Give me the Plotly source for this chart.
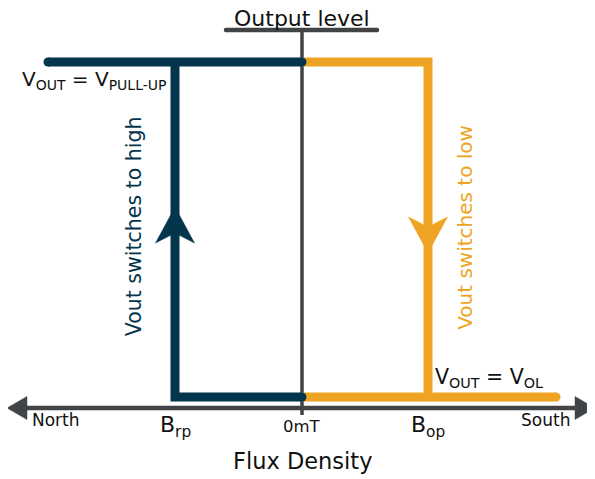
import plotly.graph_objects as go

# ---------------- data ----------------
# flux density positions (arbitrary units, 0 = 0 mT)
NORTH_END = -254
B_RP = -127
ZERO = 0
B_OP = 126
SOUTH_END = 254
AXIS_LEFT_TIP = -295
AXIS_RIGHT_TIP = 293

# output levels
V_LOW = 0.0
V_HIGH = 1.0

# tick labels along the flux axis
tick_labels = ["North", "B<sub>rp</sub>", "0mT", "B<sub>op</sub>", "South"]
tick_x = [-246, B_RP, ZERO, B_OP, 243]
tick_sizes = [17, 22, 16.5, 22, 17]
tick_drop_px = [23, 29, 29, 29, 23]

# release path (navy): low -> high at B_rp, then high level
release_x = [ZERO, B_RP, B_RP, None, NORTH_END, ZERO]
release_y = [V_LOW, V_LOW, V_HIGH, None, V_HIGH, V_HIGH]
# operate path (orange): high -> low at B_op, then low level
operate_x = [ZERO, B_OP, B_OP, None, ZERO, SOUTH_END]
operate_y = [V_HIGH, V_HIGH, V_LOW, None, V_LOW, V_LOW]

# arrow tip levels on the switching lines
arrow_up_tip = 0.567
arrow_down_tip = 0.43

# ---------------- styling ----------------
# the page body has an 8px margin, so the figure covers window pixels 8..595 / 8..479
OFF = 8
W, H = 595 - OFF, 479 - OFF
X_MIN, X_MAX = OFF - 302, 595 - 302
Y_MIN, Y_MAX = (397 - 479) / 335, (397 - OFF) / 335
PY = 1 / 335  # y units per pixel
NAVY = "#03354C"
ORANGE = "#EEA422"
GRAY = "#404446"
FONT = "DejaVu Sans"
LW = 9

AXIS_Y = V_LOW - 11 * PY
TITLE_LINE_Y = V_HIGH + 32 * PY

fig = go.Figure()

def line(x, y, color, width):
    fig.add_trace(go.Scatter(x=x, y=y, mode="lines", line=dict(color=color, width=width),
                             hoverinfo="skip", showlegend=False, cliponaxis=False))

def dots(x, y, color, size):
    fig.add_trace(go.Scatter(x=x, y=y, mode="markers",
                             marker=dict(color=color, size=size, line=dict(width=0)),
                             hoverinfo="skip", showlegend=False, cliponaxis=False))

def poly(x, y, color):
    fig.add_trace(go.Scatter(x=x, y=y, mode="lines", fill="toself", fillcolor=color,
                             line=dict(color=color, width=0.5), hoverinfo="skip",
                             showlegend=False, cliponaxis=False))

# vertical output-level axis + title underline
line([ZERO, ZERO], [TITLE_LINE_Y, V_LOW - 18 * PY], GRAY, 3.5)
line([-76, 75], [TITLE_LINE_Y, TITLE_LINE_Y], GRAY, 4.5)
dots([-76, 75], [TITLE_LINE_Y, TITLE_LINE_Y], GRAY, 4.5)

# flux axis with arrowheads
line([AXIS_LEFT_TIP + 20, AXIS_RIGHT_TIP - 20], [AXIS_Y, AXIS_Y], GRAY, 4.7)
poly([AXIS_LEFT_TIP, AXIS_LEFT_TIP + 20, AXIS_LEFT_TIP + 20, AXIS_LEFT_TIP],
     [AXIS_Y, AXIS_Y + 11.5 * PY, AXIS_Y - 11.5 * PY, AXIS_Y], GRAY)
poly([AXIS_RIGHT_TIP, AXIS_RIGHT_TIP - 20, AXIS_RIGHT_TIP - 20, AXIS_RIGHT_TIP],
     [AXIS_Y, AXIS_Y + 11.5 * PY, AXIS_Y - 11.5 * PY, AXIS_Y], GRAY)

# hysteresis paths
line(operate_x, operate_y, ORANGE, LW)
dots([SOUTH_END], [V_LOW], ORANGE, LW)
line(release_x, release_y, NAVY, LW)
dots([NORTH_END, ZERO, ZERO], [V_HIGH, V_HIGH, V_LOW], NAVY, LW)

# direction arrowheads
HL, HN, HW = 36, 10, 19.5
poly([B_RP, B_RP + HW, B_RP, B_RP - HW, B_RP],
     [arrow_up_tip, arrow_up_tip - HL * PY, arrow_up_tip - (HL - HN) * PY,
      arrow_up_tip - HL * PY, arrow_up_tip], NAVY)
poly([B_OP, B_OP + HW, B_OP, B_OP - HW, B_OP],
     [arrow_down_tip, arrow_down_tip + HL * PY, arrow_down_tip + (HL - HN) * PY,
      arrow_down_tip + HL * PY, arrow_down_tip], ORANGE)

# ---------------- text ----------------
def text(x, y, s, size, color="#111111", angle=0, xanchor="center", yanchor="middle"):
    fig.add_annotation(x=x, y=y, xref="x", yref="y", text=s, showarrow=False,
                       font=dict(family=FONT, size=size, color=color), textangle=angle,
                       xanchor=xanchor, yanchor=yanchor)

text(ZERO, V_HIGH + 44 * PY, "Output level", 22)
text(ZERO, V_LOW - 64 * PY, "Flux Density", 22.5)
for lx, lab, sz, dp in zip(tick_x, tick_labels, tick_sizes, tick_drop_px):
    text(lx, V_LOW - dp * PY, lab, sz)

text(-208, V_HIGH - 18 * PY, "V<sub>OUT</sub> = V<sub>PULL-UP</sub>", 20)
text(187, V_LOW + 19 * PY, "V<sub>OUT</sub> = V<sub>OL</sub>", 20.5)
text(-168, 0.51, "Vout switches to high", 20.5, color=NAVY, angle=-90)
text(163, 0.505, "Vout switches to low", 20, color=ORANGE, angle=-90)

fig.update_layout(
    width=W, height=H, margin=dict(l=0, r=0, t=0, b=0),
    paper_bgcolor="white", plot_bgcolor="white", showlegend=False,
    xaxis=dict(range=[X_MIN, X_MAX], visible=False, fixedrange=True),
    yaxis=dict(range=[Y_MIN, Y_MAX], visible=False, fixedrange=True),
)
fig.write_html("out.html")
